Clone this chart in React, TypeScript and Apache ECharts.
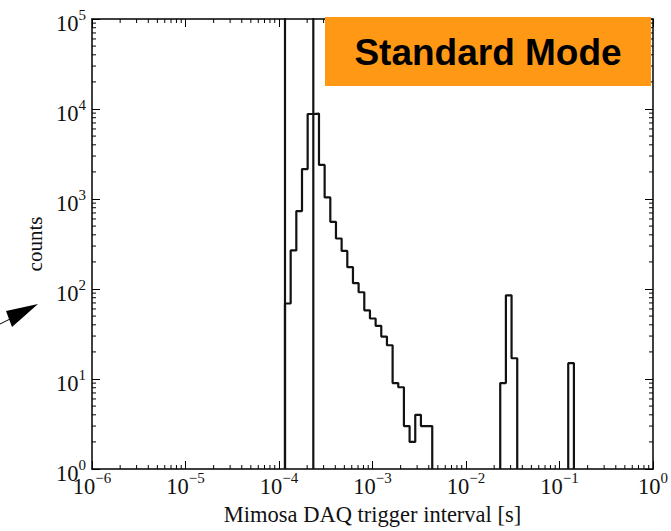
import React, { useEffect, useRef } from "react";
import * as echarts from "echarts";

// ---- Data ----
const xTickExponents = [-6, -5, -4, -3, -2, -1, 0];
const yTickExponents = [0, 1, 2, 3, 4, 5];

// Main histogram cluster: bin edges [s] and counts
const mainEdges = [
  1.159e-4, 1.333e-4, 1.532e-4, 1.762e-4, 2.025e-4, 2.328e-4, 2.677e-4, 3.077e-4,
  3.538e-4, 4.067e-4, 4.676e-4, 5.376e-4, 6.18e-4, 7.105e-4, 8.168e-4, 9.39e-4,
  1.08e-3, 1.241e-3, 1.427e-3, 1.641e-3, 1.886e-3, 2.168e-3, 2.493e-3, 2.866e-3,
  3.295e-3, 3.788e-3, 4.355e-3,
];
const mainCounts = [
  69, 268, 735, 2150, 8800, 8900, 2390, 1040, 557, 364, 265, 175, 116, 92, 58, 47,
  39, 29.6, 23.7, 9, 8.1, 3, 2, 4, 3, 3,
];

// Second cluster near 3e-2 s
const peakAEdges = [0.02323, 0.02671, 0.03071, 0.03531];
const peakACounts = [9, 85, 17];

// Third cluster near 1.3e-1 s
const peakBEdges = [0.124, 0.1426];
const peakBCounts = [15];

// Off-scale (overflow) bin drawn across the whole height
const overflowEdges = [1.159e-4, 2.328e-4];
const overflowCounts = [3e5];

const X_MIN = Math.pow(10, xTickExponents[0]);
const X_MAX = Math.pow(10, xTickExponents[xTickExponents.length - 1]);
const Y_MIN = Math.pow(10, yTickExponents[0]);
const Y_MAX = Math.pow(10, yTickExponents[yTickExponents.length - 1]);

function outline(edges: number[], counts: number[]): number[][] {
  const pts: number[][] = [[edges[0], Y_MIN]];
  counts.forEach((c, i) => {
    pts.push([edges[i], c]);
    pts.push([edges[i + 1], c]);
  });
  pts.push([edges[edges.length - 1], Y_MIN]);
  return pts;
}

function minorValues(fromExp: number, toExp: number): number[] {
  const out: number[] = [];
  for (let e = fromExp; e < toExp; e++) {
    for (let k = 2; k <= 9; k++) out.push(k * Math.pow(10, e));
  }
  return out;
}

const SERIF = "'Liberation Serif', 'Times New Roman', serif";
const INK = "#111";

function expLabel(v: number): string {
  const e = Math.round(Math.log10(v));
  const s = e < 0 ? "\u2212" + -e : String(e);
  return "{b|10}{s|" + s + "}";
}

const labelRich = {
  b: {
    fontSize: 22.5,
    lineHeight: 22,
    fontFamily: SERIF,
    color: INK,
    padding: [8, 0, 0, 0],
  },
  s: {
    fontSize: 15,
    lineHeight: 15,
    fontFamily: SERIF,
    color: INK,
    padding: [3, 0, 12, 0],
  },
};

export default function App() {
  const ref = useRef<HTMLDivElement>(null);

  useEffect(() => {
    if (!ref.current) return;
    const chart = echarts.init(ref.current, undefined, { renderer: "svg" });

    const lineStyle = { color: "#121212", width: 2.2 };
    const histSeries = (name: string, edges: number[], counts: number[]) => ({
      name,
      type: "line",
      xAxisIndex: 0,
      yAxisIndex: 0,
      data: outline(edges, counts),
      symbol: "none",
      lineStyle,
      clip: true,
      z: 3,
    });

    const xMinor = minorValues(xTickExponents[0], xTickExponents[xTickExponents.length - 1]).map((v) => [v, 1]);
    const yMinor = minorValues(yTickExponents[0], yTickExponents[yTickExponents.length - 1]).map((v) => [1, v]);

    const frameLine = { show: true, lineStyle: { color: "#000", width: 1.5 } };
    const majorTick = {
      show: true,
      inside: true,
      length: 8,
      lineStyle: { color: "#000", width: 1 },
    };

    chart.setOption({
      animation: false,
      backgroundColor: "#fff",
      grid: { left: 92, top: 19, width: 561, height: 451, containLabel: false },
      xAxis: [
        {
          type: "log",
          logBase: 10,
          min: X_MIN,
          max: X_MAX,
          interval: 1,
          position: "bottom",
          axisLine: frameLine,
          axisTick: majorTick,
          splitLine: { show: false },
          axisLabel: {
            show: true,
            margin: 2,
            formatter: expLabel,
            rich: labelRich,
          },
          name: "Mimosa DAQ trigger interval [s]",
          nameLocation: "middle",
          nameGap: 34,
          nameTextStyle: { fontSize: 22.5, fontFamily: SERIF, color: INK },
        },
        {
          type: "log",
          logBase: 10,
          min: X_MIN,
          max: X_MAX,
          interval: 1,
          position: "top",
          axisLine: frameLine,
          axisTick: majorTick,
          splitLine: { show: false },
          axisLabel: { show: false },
        },
      ],
      yAxis: [
        {
          type: "log",
          logBase: 10,
          min: Y_MIN,
          max: Y_MAX,
          interval: 1,
          position: "left",
          axisLine: frameLine,
          axisTick: majorTick,
          splitLine: { show: false },
          axisLabel: {
            show: true,
            margin: 6,
            formatter: expLabel,
            rich: labelRich,
          },
          name: "counts",
          nameLocation: "middle",
          nameGap: 46,
          nameTextStyle: { fontSize: 21, fontFamily: SERIF, color: INK },
        },
        {
          type: "log",
          logBase: 10,
          min: Y_MIN,
          max: Y_MAX,
          interval: 1,
          position: "right",
          axisLine: frameLine,
          axisTick: majorTick,
          splitLine: { show: false },
          axisLabel: { show: false },
        },
      ],
      series: [
        histSeries("overflow", overflowEdges, overflowCounts),
        histSeries("main", mainEdges, mainCounts),
        histSeries("peakA", peakAEdges, peakACounts),
        histSeries("peakB", peakBEdges, peakBCounts),
        {
          name: "xMinorTicks",
          type: "custom",
          xAxisIndex: 0,
          yAxisIndex: 0,
          data: xMinor,
          silent: true,
          z: 4,
          renderItem: (params: any, api: any) => {
            const cs = params.coordSys;
            const x = api.coord([api.value(0), api.value(1)])[0];
            const b = cs.y + cs.height;
            return {
              type: "group",
              children: [
                { type: "line", shape: { x1: x, y1: b, x2: x, y2: b - 4 }, style: { stroke: "#000", lineWidth: 1 } },
                { type: "line", shape: { x1: x, y1: cs.y, x2: x, y2: cs.y + 4 }, style: { stroke: "#000", lineWidth: 1 } },
              ],
            };
          },
        },
        {
          name: "yMinorTicks",
          type: "custom",
          xAxisIndex: 0,
          yAxisIndex: 0,
          data: yMinor,
          silent: true,
          z: 4,
          renderItem: (params: any, api: any) => {
            const cs = params.coordSys;
            const y = api.coord([api.value(0), api.value(1)])[1];
            const r = cs.x + cs.width;
            return {
              type: "group",
              children: [
                { type: "line", shape: { x1: cs.x, y1: y, x2: cs.x + 4, y2: y }, style: { stroke: "#000", lineWidth: 1 } },
                { type: "line", shape: { x1: r, y1: y, x2: r - 4, y2: y }, style: { stroke: "#000", lineWidth: 1 } },
              ],
            };
          },
        },
      ],
      graphic: [
        {
          type: "rect",
          z: 100,
          shape: { x: 325, y: 17, width: 326, height: 69 },
          style: { fill: "#FF9814" },
        },
        {
          type: "text",
          z: 101,
          x: 488,
          y: 52,
          style: {
            text: "Standard Mode",
            fontSize: 37,
            fontWeight: "bold",
            fontFamily: "'Liberation Sans', Arial, sans-serif",
            fill: "#000",
            align: "center",
            verticalAlign: "middle",
          },
        },
        {
          type: "polygon",
          z: 100,
          shape: { points: [[38, 304], [6, 311], [12, 327]] },
          style: { fill: "#000" },
        },
        {
          type: "line",
          z: 100,
          shape: { x1: 0, y1: 324, x2: 10, y2: 319 },
          style: { stroke: "#000", lineWidth: 1 },
        },
      ],
    });

    return () => chart.dispose();
  }, []);

  return (
    <div
      ref={ref}
      style={{ position: "absolute", left: 0, top: 0, width: 671, height: 531 }}
    />
  );
}
